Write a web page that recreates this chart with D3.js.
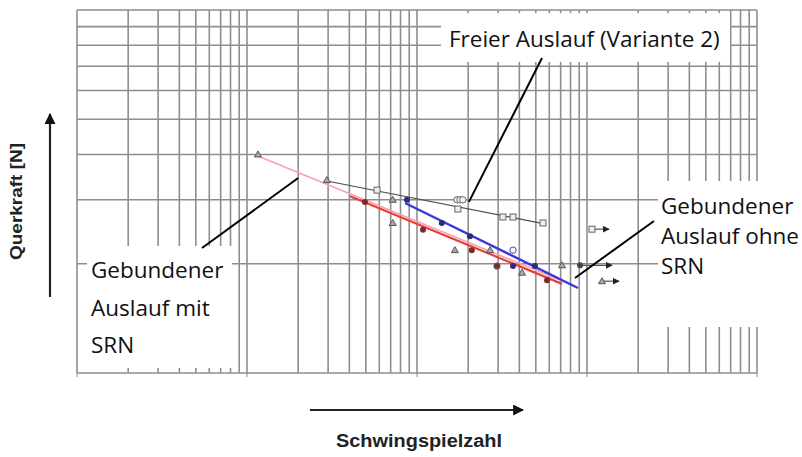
<!DOCTYPE html>
<html>
<head>
<meta charset="utf-8">
<script src="https://cdn.jsdelivr.net/npm/d3@7"></script>
<style>
  body { margin: 0; background: #fff; }
  svg { display: block; }
</style>
</head>
<body>
<div id="graph-holder"></div>
<script>
// axis domains (log-log Woehler plot)
var xDomain = [1e4, 1e8];
var yDomain = [100, 1000];

// triangles (open markers)
var triN = [1.16e5, 2.95e5, 7.2e5, 7.2e5, 1.67e6, 2.69e6, 4.15e6, 7.13e6];
var triF = [400, 340, 300, 259, 218, 218, 189, 198];

// squares (Freier Auslauf)
var sqN = [5.82e5, 1.74e6, 3.2e6, 3.67e6, 5.51e6];
var sqF = [319, 283, 269, 269, 259];

// circles
var circN = [1.72e6, 1.79e6, 1.86e6, 3.67e6, 2.955e6];
var circF = [300, 300, 300, 218, 197];

// filled dots, red series (mit SRN)
var redN = [4.94e5, 1.085e6, 2.1e6, 2.955e6, 5.82e6];
var redF = [296, 248, 218, 197, 180];

// filled dots, blue series (ohne SRN)
var blueN = [8.73e5, 1.4e6, 2.05e6, 3.67e6, 4.94e6];
var blueF = [300, 259, 238, 197, 197];

// run-outs (Durchlaeufer) with arrow
var runN = [1.07e7, 9.1e6, 1.225e7];
var runF = [249, 198, 179];
var runType = ["square", "dot", "triangle"];

// fitted lines, [N, F] end points
var pinkLine = [[1.16e5, 396], [7.42e6, 178]];
var redLine = [[4.04e5, 307], [7.13e6, 176]];
var blueLine = [[8.5e5, 294], [8.85e6, 171.5]];
var grayLine = [[2.95e5, 338], [5.51e6, 258]];

// labels: text lines, box, leader start (px) and leader target (data)
var labels = [
  { lines: ["Freier Auslauf (Variante 2)"], box: [441, 13, 289, 49], tx: 449, ty: 47, dy: 0,
    from: [542, 58], to: [2.02e6, 296] },
  { lines: ["Gebundener", "Auslauf ohne", "SRN"], box: [658, 181, 144, 146], tx: 661, ty: 214, dy: 30,
    from: [654, 221], to: [8.5e6, 182.7] },
  { lines: ["Gebundener", "Auslauf mit", "SRN"], box: [87, 246, 145, 122], tx: 91, ty: 278, dy: 37.5,
    from: [202, 248], to: [2.0e5, 344.6] }
];

var svg, x, y;
var margin = { top: 10, right: 45, bottom: 84, left: 77 },
  width = 802 - margin.left - margin.right,
  height = 457 - margin.top - margin.bottom;

/**
 * Builds svg and scales
 */
function setup() {
  var root = d3
    .select("#graph-holder")
    .append("svg")
    .attr("width", 802)
    .attr("height", 457);

  var defs = root.append("defs");
  defs
    .append("marker")
    .attr("id", "head")
    .attr("viewBox", "0 0 10 10")
    .attr("refX", 9)
    .attr("refY", 5)
    .attr("markerWidth", 5)
    .attr("markerHeight", 5)
    .attr("orient", "auto")
    .append("path")
    .attr("d", "M0,0L10,5L0,10z")
    .attr("fill", "#111");
  defs
    .append("marker")
    .attr("id", "smallhead")
    .attr("viewBox", "0 0 10 10")
    .attr("refX", 9)
    .attr("refY", 5)
    .attr("markerWidth", 7)
    .attr("markerHeight", 7)
    .attr("markerUnits", "userSpaceOnUse")
    .attr("orient", "auto")
    .append("path")
    .attr("d", "M0,0L10,5L0,10z")
    .attr("fill", "#222");

  svg = root
    .append("g")
    .attr("transform", "translate(" + margin.left + "," + margin.top + ")");

  x = d3.scaleLog().domain(xDomain).range([0, width]);
  y = d3.scaleLog().domain(yDomain).range([height, 0]);
}

/**
 * Draws the log grid
 */
function drawGrid() {
  var g = svg.append("g").attr("stroke", "#8e8e8e").attr("stroke-width", 1.6);
  x.ticks().forEach(function (t) {
    g.append("line")
      .attr("x1", x(t)).attr("x2", x(t))
      .attr("y1", 0).attr("y2", height);
  });
  y.ticks().forEach(function (t) {
    g.append("line")
      .attr("x1", 0).attr("x2", width)
      .attr("y1", y(t)).attr("y2", y(t));
  });
  // decade ticks under the bottom axis
  [1e4, 1e5, 1e6, 1e7, 1e8].forEach(function (t) {
    g.append("line")
      .attr("x1", x(t)).attr("x2", x(t))
      .attr("y1", height).attr("y2", height + 4)
      .attr("stroke-width", 1);
  });
}

/**
 * Draws one fitted line
 */
function addLine(data, color, w) {
  svg
    .append("path")
    .datum(data)
    .attr("fill", "none")
    .attr("stroke", color)
    .attr("stroke-width", w)
    .attr("d", d3.line().x(function (d) { return x(d[0]); }).y(function (d) { return y(d[1]); }));
}

/**
 * Draws one marker at the given point
 */
function addMarker(n, f, type, color) {
  var cx = x(n), cy = y(f);
  if (type == "triangle") {
    svg.append("path")
      .attr("d", "M" + cx + "," + (cy - 3.5) + "L" + (cx + 3.5) + "," + (cy + 2.5) + "L" + (cx - 3.5) + "," + (cy + 2.5) + "Z")
      .attr("fill", "#aaa").attr("stroke", "#555").attr("stroke-width", 1);
  } else if (type == "square") {
    svg.append("rect")
      .attr("x", cx - 3).attr("y", cy - 3).attr("width", 6).attr("height", 6)
      .attr("fill", "#eee").attr("stroke", "#666").attr("stroke-width", 1);
  } else if (type == "circle") {
    svg.append("circle")
      .attr("cx", cx).attr("cy", cy).attr("r", 3.2)
      .attr("fill", "#f4f4f4").attr("stroke", color || "#666").attr("stroke-width", 1);
  } else {
    svg.append("circle")
      .attr("cx", cx).attr("cy", cy).attr("r", 3)
      .attr("fill", color).attr("stroke", "none");
  }
}

/**
 * Draws the measurement points
 */
function drawPoints() {
  addLine(pinkLine, "#f5a3ae", 1.6);
  addLine(grayLine, "#505050", 1.2);
  addLine(redLine, "#e8403c", 2.2);
  addLine(blueLine, "#3a3ad8", 2.4);

  triN.forEach(function (n, i) { addMarker(n, triF[i], "triangle"); });
  sqN.forEach(function (n, i) { addMarker(n, sqF[i], "square"); });
  circN.forEach(function (n, i) { addMarker(n, circF[i], "circle", i == 3 ? "#5050a0" : "#666"); });
  redN.forEach(function (n, i) { addMarker(n, redF[i], "dot", "#7a2a30"); });
  blueN.forEach(function (n, i) { addMarker(n, blueF[i], "dot", "#2c2c78"); });

  // run-outs
  runN.forEach(function (n, i) {
    svg.append("line")
      .attr("x1", x(n)).attr("x2", x(n) + (runType[i] == "dot" ? 32 : 17))
      .attr("y1", y(runF[i])).attr("y2", y(runF[i]))
      .attr("stroke", "#555").attr("stroke-width", 1.2)
      .attr("marker-end", "url(#smallhead)");
    addMarker(n, runF[i], runType[i], "#444");
  });
}

/**
 * Draws the label boxes with leader lines
 */
function drawLabels() {
  labels.forEach(function (l) {
    svg.append("rect")
      .attr("x", l.box[0] - margin.left).attr("y", l.box[1] - margin.top)
      .attr("width", l.box[2]).attr("height", l.box[3])
      .attr("fill", "#fff");
    l.lines.forEach(function (t, i) {
      svg.append("text")
        .attr("x", l.tx - margin.left)
        .attr("y", l.ty - margin.top + i * l.dy)
        .attr("font-family", "'Open Sans', 'Noto Sans', sans-serif")
        .attr("font-size", "22.5px")
        .attr("fill", "#111")
        .text(t);
    });
    svg.append("line")
      .attr("x1", l.from[0] - margin.left).attr("y1", l.from[1] - margin.top)
      .attr("x2", x(l.to[0])).attr("y2", y(l.to[1]))
      .attr("stroke", "#000").attr("stroke-width", 2);
  });
}

/**
 * Axis titles and arrows
 */
function drawAxisTitles() {
  var root = d3.select("#graph-holder svg");
  root.append("line")
    .attr("x1", 310).attr("y1", 410).attr("x2", 523).attr("y2", 410)
    .attr("stroke", "#222").attr("stroke-width", 2.2)
    .attr("marker-end", "url(#head)");
  root.append("text")
    .attr("x", 336).attr("y", 447)
    .attr("font-family", "'Liberation Sans', Arial, sans-serif")
    .attr("font-weight", "bold")
    .attr("font-size", "18px")
    .attr("textLength", 166)
    .attr("lengthAdjust", "spacingAndGlyphs")
    .attr("fill", "#222")
    .text("Schwingspielzahl");

  root.append("line")
    .attr("x1", 50).attr("y1", 297).attr("x2", 50).attr("y2", 114)
    .attr("stroke", "#222").attr("stroke-width", 2.2)
    .attr("marker-end", "url(#head)");
  root.append("text")
    .attr("transform", "translate(22,260) rotate(-90)")
    .attr("font-family", "'Liberation Sans', Arial, sans-serif")
    .attr("font-weight", "bold")
    .attr("font-size", "16px")
    .attr("textLength", 117)
    .attr("lengthAdjust", "spacingAndGlyphs")
    .attr("fill", "#222")
    .text("Querkraft [N]");
}

setup();
drawGrid();
drawPoints();
drawLabels();
drawAxisTitles();
</script>
</body>
</html>
